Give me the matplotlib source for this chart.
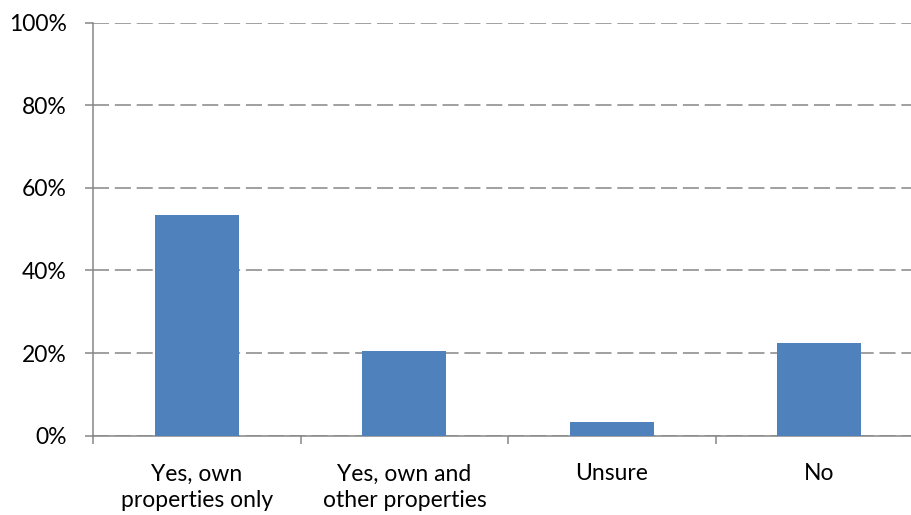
import matplotlib
matplotlib.use("Agg")
import matplotlib.pyplot as plt
import numpy as np

categories = ["Yes, own\nproperties only", "Yes, own and\nother properties", "Unsure", "No"]
values = [53.4, 20.6, 3.3, 22.4]
yticks = [0, 20, 40, 60, 80, 100]
ytick_labels = ["0%", "20%", "40%", "60%", "80%", "100%"]

plt.rcParams['font.family'] = ['Lato', 'DejaVu Sans']
fig = plt.figure(figsize=(9.12, 5.15), dpi=100)
ax = fig.add_axes([0.1023, 0.154, 1.012 - 0.1023, 0.956 - 0.154])

grey = "#868686"
x = np.arange(len(categories))
ax.bar(x, values, width=0.405, color="#4F81BD", zorder=3)

ax.set_xlim(-0.5, len(categories) - 0.5)
ax.set_ylim(0, 100)
ax.set_yticks(yticks)
ax.set_yticklabels(ytick_labels, fontsize=16.5, color="black")
ax.yaxis.grid(True, color=grey, linewidth=1.1, linestyle=(0, (10.5, 3.8)), zorder=1)
ax.set_axisbelow(True)

ax.set_xticks(x)
ax.set_xticklabels(categories, fontsize=16.5, color="black", linespacing=1.35)
ax.set_xticks(np.arange(len(categories) + 1) - 0.5, minor=True)
ax.tick_params(axis='x', which='major', length=0, pad=20)
ax.tick_params(axis='x', which='minor', length=6, width=1.1, color=grey, direction='out')
ax.tick_params(axis='y', which='major', length=6, width=1.1, color=grey, direction='out', pad=13)

for s in ['top', 'right']:
    ax.spines[s].set_visible(False)
for s in ['left', 'bottom']:
    ax.spines[s].set_color(grey)
    ax.spines[s].set_linewidth(1.1)

fig.savefig("out.png", dpi=100)
